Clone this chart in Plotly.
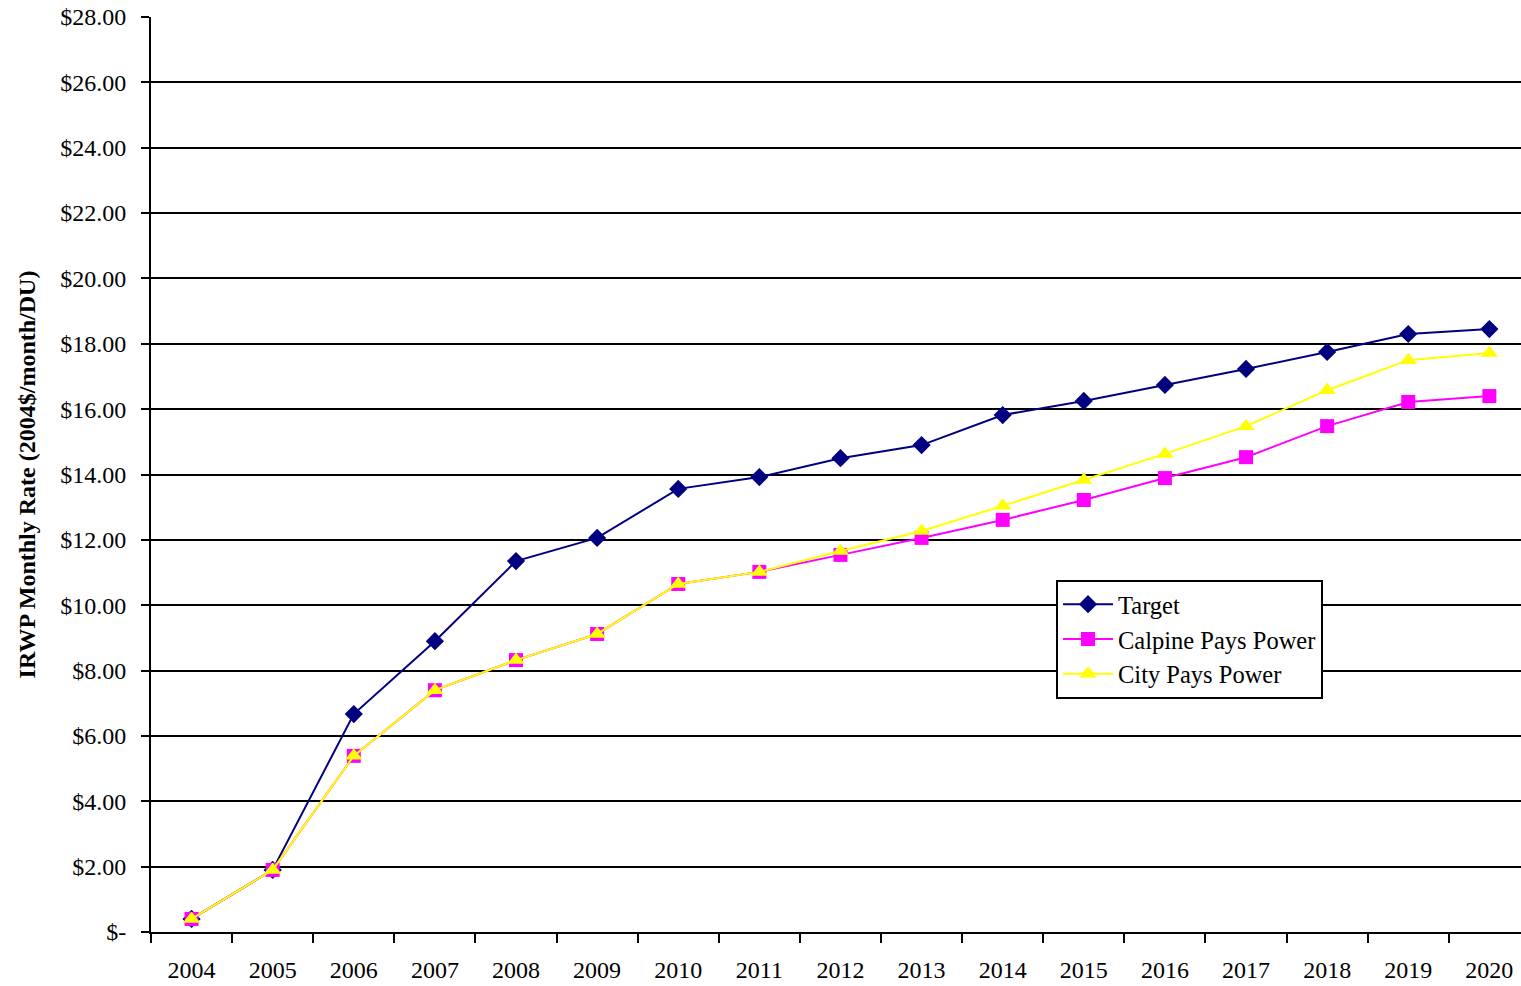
import plotly.graph_objects as go

years = [str(y) for y in range(2004, 2021)]
target = [0.40, 1.90, 6.67, 8.90, 11.35, 12.06, 13.56, 13.92, 14.50, 14.90,
          15.82, 16.25, 16.74, 17.23, 17.75, 18.30, 18.45]
calpine = [0.40, 1.90, 5.39, 7.40, 8.32, 9.12, 10.65, 11.02, 11.54, 12.06,
           12.61, 13.22, 13.89, 14.53, 15.48, 16.22, 16.40]
city = [0.40, 1.90, 5.39, 7.40, 8.32, 9.12, 10.65, 11.02, 11.66, 12.27,
        13.04, 13.83, 14.63, 15.48, 16.58, 17.50, 17.72]
ytickvals = list(range(0, 29, 2))
yticktext = ["$-"] + [f"${v:.2f}" for v in ytickvals[1:]]

font = "Liberation Serif, Times New Roman, serif"
FS = 24
LFS = 24.5

fig = go.Figure()
fig.add_trace(go.Scatter(x=years, y=target, name="Target", mode="lines+markers",
                         line=dict(color="#000080", width=2),
                         marker=dict(symbol="diamond", size=14, color="#000080")))
fig.add_trace(go.Scatter(x=years, y=calpine, name="Calpine Pays Power", mode="lines+markers",
                         line=dict(color="#FF00FF", width=2),
                         marker=dict(symbol="square", size=14, color="#FF00FF")))
fig.add_trace(go.Scatter(x=years, y=city, name="City Pays Power", mode="lines+markers",
                         line=dict(color="#FFFF00", width=2),
                         marker=dict(symbol="triangle-up", size=15, color="#FFFF00")))

fig.update_layout(
    width=1521, height=986,
    margin=dict(l=151, r=0, t=17, b=54),
    paper_bgcolor="white", plot_bgcolor="white",
    font=dict(family=font, size=FS, color="black"),
    showlegend=True,
    legend=dict(x=0.6606, y=0.385, xanchor="left", yanchor="top",
                bordercolor="black", borderwidth=2, bgcolor="white",
                font=dict(family=font, size=LFS, color="black"),
                itemwidth=50, traceorder="normal"),
    xaxis=dict(type="category", showgrid=False, showline=True, linecolor="black",
               linewidth=2, ticks="outside", tickson="boundaries", ticklen=9,
               tickwidth=2, tickcolor="black", range=[-0.5, 16.39],
               tickfont=dict(family=font, size=FS), zeroline=False,
               ticklabelstandoff=15),
    yaxis=dict(range=[0, 28], tickvals=ytickvals, ticktext=yticktext,
               showgrid=True, gridcolor="black", gridwidth=2,
               showline=True, linecolor="black", linewidth=2,
               ticks="outside", ticklen=8, tickwidth=2, tickcolor="black",
               zeroline=False, tickfont=dict(family=font, size=FS),
               ticklabelstandoff=10,
               title=dict(text="<b>IRWP Monthly Rate (2004$/month/DU)</b>",
                          font=dict(family=font, size=FS), standoff=18)),
)

fig.write_html("out.html")
